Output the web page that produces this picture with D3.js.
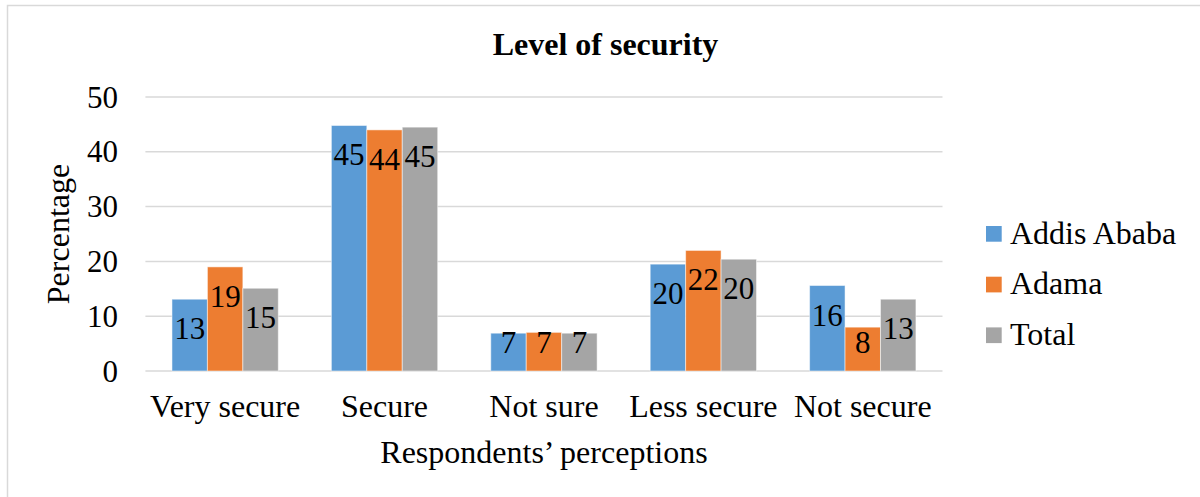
<!DOCTYPE html>
<html>
<head>
<meta charset="utf-8">
<script src="https://cdn.jsdelivr.net/npm/d3@7"></script>
<style>
  html, body { margin: 0; padding: 0; background: #fff; }
  svg { display: block; }
  text { font-family: "Liberation Serif", "Times New Roman", serif; fill: #000; }
</style>
</head>
<body>
<svg id="chart"></svg>
<script>
const categories = ["Very secure", "Secure", "Not sure", "Less secure", "Not secure"];
const seriesNames = ["Addis Ababa", "Adama", "Total"];
const addisAbaba = [13.1, 44.8, 6.9, 19.5, 15.6];
const adama = [19.0, 44.0, 7.05, 22.0, 8.0];
const total = [15.1, 44.5, 6.9, 20.4, 13.1];
const yTicks = [0, 10, 20, 30, 40, 50];
const colors = ["#5B9BD5", "#ED7D31", "#A5A5A5"];

const series = [addisAbaba, adama, total];

const width = 1200;
const height = 497;
const plot = { left: 145.4, right: 942.5, top: 97, bottom: 371 };

const svg = d3.select("#chart").attr("width", width).attr("height", height);

// chart border
svg.append("rect")
  .attr("x", 7.5).attr("y", 5.5)
  .attr("width", 1220).attr("height", 520)
  .attr("fill", "#fff")
  .attr("stroke", "#d9d9d9")
  .attr("stroke-width", 1.5);

const y = d3.scaleLinear().domain([0, 50]).range([plot.bottom, plot.top]);
const x0 = d3.scaleBand()
  .domain(categories)
  .range([plot.left, plot.right])
  .paddingInner(0.333)
  .paddingOuter(0.1667);
const x1 = d3.scaleBand().domain(seriesNames).range([0, x0.bandwidth()]);

// gridlines
svg.append("g")
  .selectAll("line")
  .data(yTicks)
  .join("line")
  .attr("x1", plot.left).attr("x2", plot.right)
  .attr("y1", (d) => y(d)).attr("y2", (d) => y(d))
  .attr("stroke", "#d9d9d9")
  .attr("stroke-width", 1.5);

// y tick labels
svg.append("g")
  .selectAll("text")
  .data(yTicks)
  .join("text")
  .attr("x", 118)
  .attr("y", (d) => y(d) + 10.5)
  .attr("text-anchor", "end")
  .attr("font-size", "31px")
  .text((d) => d);

// bars
const groups = svg.append("g")
  .selectAll("g")
  .data(categories)
  .join("g")
  .attr("transform", (d) => `translate(${x0(d)},0)`);

const cells = groups.selectAll("g")
  .data((c, i) => seriesNames.map((s, j) => ({ s, j, v: series[j][i] })))
  .join("g");

cells.append("rect")
  .attr("x", (d) => x1(d.s))
  .attr("y", (d) => y(d.v))
  .attr("width", x1.bandwidth())
  .attr("height", (d) => y(0) - y(d.v))
  .attr("fill", (d) => colors[d.j])
  .attr("stroke", "#fff")
  .attr("stroke-opacity", 0.5)
  .attr("stroke-width", 1);

// data labels, inside end
cells.append("text")
  .attr("x", (d) => x1(d.s) + x1.bandwidth() / 2)
  .attr("y", (d) => Math.min(y(d.v) + 40, y(0) - 18))
  .attr("text-anchor", "middle")
  .attr("font-size", "31px")
  .text((d) => Math.round(d.v));

// category labels
svg.append("g")
  .selectAll("text")
  .data(categories)
  .join("text")
  .attr("x", (d) => x0(d) + x0.bandwidth() / 2)
  .attr("y", 416.7)
  .attr("text-anchor", "middle")
  .attr("font-size", "32px")
  .text((d) => d);

// title
svg.append("text")
  .attr("x", 605.5)
  .attr("y", 55)
  .attr("text-anchor", "middle")
  .attr("font-size", "32px")
  .attr("font-weight", "bold")
  .text("Level of security");

// axis titles
svg.append("text")
  .attr("x", (plot.left + plot.right) / 2)
  .attr("y", 463.3)
  .attr("text-anchor", "middle")
  .attr("font-size", "32px")
  .text("Respondents’ perceptions");

svg.append("text")
  .attr("transform", `translate(69,${(plot.top + plot.bottom) / 2}) rotate(-90)`)
  .attr("text-anchor", "middle")
  .attr("font-size", "32px")
  .text("Percentage");

// legend
const legend = svg.append("g")
  .selectAll("g")
  .data(seriesNames)
  .join("g")
  .attr("transform", (d, i) => `translate(986,${226 + i * 50.7})`);

legend.append("rect")
  .attr("width", 15.7).attr("height", 15.7)
  .attr("fill", (d, i) => colors[i]);

legend.append("text")
  .attr("x", 24)
  .attr("y", 17.5)
  .attr("font-size", "32px")
  .text((d) => d);
</script>
</body>
</html>
